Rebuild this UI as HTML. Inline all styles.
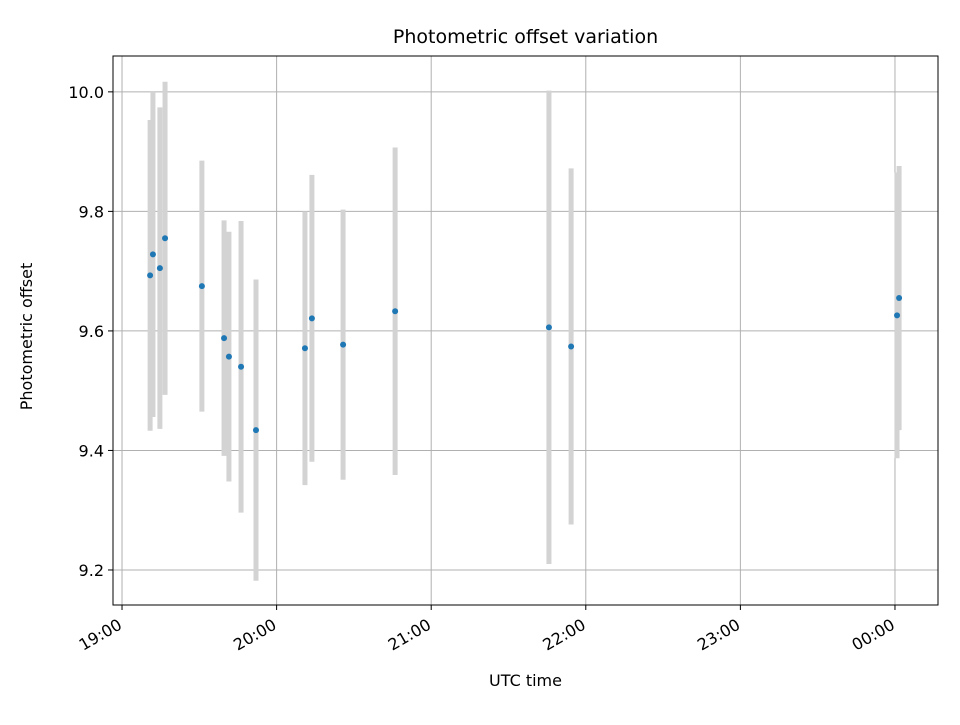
<!DOCTYPE html>
<html><head><meta charset="utf-8"><style>
body{margin:0;background:#fff;font-family:"Liberation Sans","DejaVu Sans",sans-serif;}
</style></head><body>
<svg id="chart" width="960" height="720" xmlns="http://www.w3.org/2000/svg" font-family="DejaVu Sans, Liberation Sans, sans-serif">
<rect width="960" height="720" fill="#fff"/>
<g id="grid"></g><g id="bars"></g><g id="pts"></g><g id="axes"></g>
</svg>
<script>
// minutes after 19:00 UTC
const times=[10.9,12.0,14.7,16.7,31.0,39.6,41.5,46.2,52.0,71.0,73.7,85.8,106,165.7,174.3,300.8,301.6];
const offsets=[9.693,9.728,9.705,9.755,9.675,9.588,9.557,9.540,9.434,9.571,9.621,9.577,9.633,9.606,9.574,9.626,9.655];
const errors=[0.26,0.272,0.269,0.262,0.21,0.197,0.209,0.244,0.252,0.229,0.24,0.226,0.274,0.396,0.298,0.239,0.221];
const xTicks=[0,60,120,180,240,300];
const xTickLabels=["19:00","20:00","21:00","22:00","23:00","00:00"];
const yTicks=[9.2,9.4,9.6,9.8,10.0];
const yTickLabels=["9.2","9.4","9.6","9.8","10.0"];

const L=113,R=938,T=56,B=605;
const xMin=-3.5,xMax=316.7,yMin=9.1414,yMax=10.060;
const X=v=>L+(v-xMin)/(xMax-xMin)*(R-L);
const Y=v=>B-(v-yMin)/(yMax-yMin)*(B-T);
const NS="http://www.w3.org/2000/svg";
function mk(tag,attrs,parent,name,text){const e=document.createElementNS(NS,tag);for(const k in attrs)e.setAttribute(k,attrs[k]);


if(text!==undefined)e.textContent=text;document.getElementById(parent).appendChild(e);return e;}
xTicks.forEach((t,i)=>{const x=X(t);
mk('line',{x1:x,x2:x,y1:T,y2:B,stroke:'#b0b0b0','stroke-width':1},'grid','x-gridline');
mk('line',{x1:x,x2:x,y1:B,y2:B+5,stroke:'#000','stroke-width':1},'axes','x-tick');
mk('text',{x:x-3,y:B+24,'font-size':16,'text-anchor':'end',transform:`rotate(-30 ${x-3} ${B+16})`},'axes','x-tick-label',xTickLabels[i]);});
yTicks.forEach((t,i)=>{const y=Y(t);
mk('line',{x1:L,x2:R,y1:y,y2:y,stroke:'#b0b0b0','stroke-width':1},'grid','y-gridline');
mk('line',{x1:L-5,x2:L,y1:y,y2:y,stroke:'#000','stroke-width':1},'axes','y-tick');
mk('text',{x:L-9,y:y+6,'font-size':16,'text-anchor':'end'},'axes','y-tick-label',yTickLabels[i]);});
times.forEach((t,i)=>{const x=X(t);
mk('line',{x1:x,x2:x,y1:Y(offsets[i]+errors[i]),y2:Y(offsets[i]-errors[i]),stroke:'#d3d3d3','stroke-width':5},'bars','error-bar');
mk('circle',{cx:x,cy:Y(offsets[i]),r:3,fill:'#1f77b4'},'pts','data-point');});
mk('rect',{x:L,y:T,width:R-L,height:B-T,fill:'none',stroke:'#000','stroke-width':1},'axes','plot-frame');
mk('text',{x:(L+R)/2,y:43,'font-size':19,'text-anchor':'middle'},'axes','chart-title','Photometric offset variation');
mk('text',{x:(L+R)/2,y:686,'font-size':16,'text-anchor':'middle'},'axes','x-axis-title','UTC time');
mk('text',{x:32,y:(T+B)/2+6,'font-size':16,'text-anchor':'middle',transform:`rotate(-90 32 ${(T+B)/2+6})`},'axes','y-axis-title','Photometric offset');
</script>
</body></html>
